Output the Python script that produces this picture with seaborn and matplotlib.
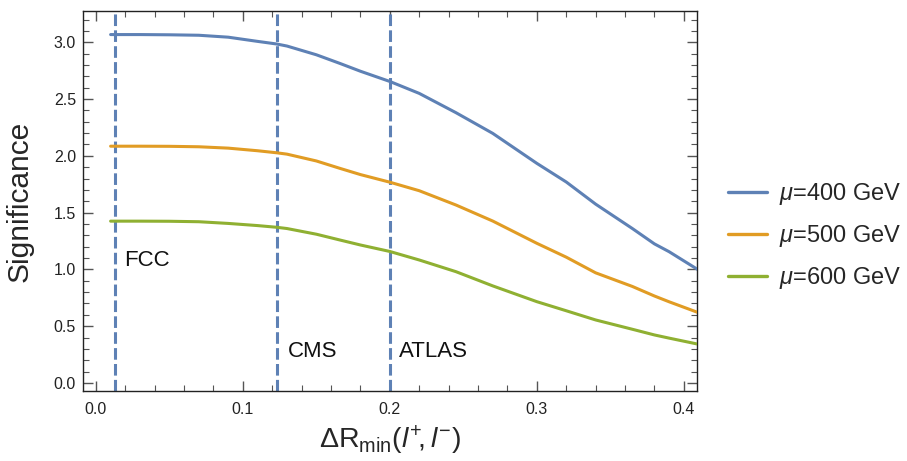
import numpy as np
import pandas as pd
import matplotlib
matplotlib.use("Agg")
import matplotlib.pyplot as plt
import seaborn as sns
from matplotlib.ticker import MultipleLocator
from matplotlib.lines import Line2D

# ---- data ----
dr = [0.01, 0.03, 0.05, 0.07, 0.09, 0.11, 0.123, 0.13, 0.15, 0.166, 0.18, 0.2,
      0.22, 0.245, 0.27, 0.3, 0.32, 0.34, 0.365, 0.38, 0.39, 0.41]
sig_400 = [3.068, 3.068, 3.066, 3.062, 3.045, 3.008, 2.985, 2.967, 2.89, 2.814, 2.745, 2.655,
           2.550, 2.38, 2.198, 1.934, 1.77, 1.575, 1.36, 1.225, 1.156, 0.995]
sig_500 = [2.085, 2.085, 2.084, 2.080, 2.068, 2.045, 2.027, 2.015, 1.955, 1.890, 1.835, 1.768,
           1.693, 1.567, 1.426, 1.23, 1.108, 0.97, 0.85, 0.766, 0.715, 0.619]
sig_600 = [1.425, 1.425, 1.424, 1.420, 1.405, 1.386, 1.371, 1.36, 1.31, 1.259, 1.215, 1.158,
           1.083, 0.98, 0.855, 0.716, 0.636, 0.555, 0.473, 0.423, 0.395, 0.341]
series_labels = [r"$\mu$=400 GeV", r"$\mu$=500 GeV", r"$\mu$=600 GeV"]
colors = ["#5E81B5", "#E19C24", "#8FB032"]
cut_names = ["FCC", "CMS", "ATLAS"]
cut_values = [0.013, 0.123, 0.2]
cut_label_x = [0.019, 0.1306, 0.2063]
cut_label_y = [1.08, 0.275, 0.275]
x_ticks = [0.0, 0.1, 0.2, 0.3, 0.4]
y_ticks = [0.0, 0.5, 1.0, 1.5, 2.0, 2.5, 3.0]

df = pd.DataFrame({
    "dr": dr * 3,
    "sig": sig_400 + sig_500 + sig_600,
    "series": [series_labels[0]] * len(dr) + [series_labels[1]] * len(dr) + [series_labels[2]] * len(dr),
})

sns.set_theme(style="white")
plt.rcParams["font.family"] = ["Liberation Sans", "DejaVu Sans"]
plt.rcParams["mathtext.fontset"] = "custom"
plt.rcParams["mathtext.rm"] = "Liberation Sans"
plt.rcParams["mathtext.it"] = "Liberation Sans:italic"
plt.rcParams["mathtext.bf"] = "Liberation Sans:bold"

fig = plt.figure(figsize=(9.07, 4.61), dpi=100)
ax = fig.add_axes([0.0915, 0.152, 0.677, 0.824])

sns.lineplot(data=df, x="dr", y="sig", hue="series", palette=colors,
             linewidth=2.2, legend=False, ax=ax, zorder=3)

for name, xv, tx, ty in zip(cut_names, cut_values, cut_label_x, cut_label_y):
    ax.axvline(xv, color="#5E81B5", linestyle=(0, (3.8, 1.4)), linewidth=2.2, zorder=2)
    ax.text(tx, ty, name, fontsize=16, va="center", ha="left", color="#111111")

ax.set_xlim(-0.0088, 0.409)
ax.set_ylim(-0.07, 3.275)
ax.set_xticks(x_ticks)
ax.set_xticklabels([f"{v:.1f}" for v in x_ticks])
ax.set_yticks(y_ticks)
ax.set_yticklabels([f"{v:.1f}" for v in y_ticks])
ax.xaxis.set_minor_locator(MultipleLocator(0.02))
ax.yaxis.set_minor_locator(MultipleLocator(0.1))
ax.tick_params(which="both", direction="in", top=True, right=True, bottom=True, left=True,
               color="#555555", labelsize=11.5, labelcolor="#222222")
ax.tick_params(which="major", length=7, width=1.0)
ax.tick_params(which="minor", length=4, width=0.8)
ax.tick_params(axis="x", which="major", pad=8)
ax.tick_params(axis="y", which="major", pad=5)
for s in ax.spines.values():
    s.set_color("#222222")
    s.set_linewidth(1.0)

ax.set_xlabel(r"$\Delta\mathrm{R}_{\mathrm{min}}(l^{+}\!,l^{-})$", fontsize=20.5, labelpad=5)
ax.set_ylabel("Significance", fontsize=21.5)
ax.yaxis.set_label_coords(-0.081, 0.5)

handles = [Line2D([0], [0], color=c, linewidth=2.4) for c in colors]
fig.legend(handles, series_labels, loc="center left", bbox_to_anchor=(0.8027, 0.488),
           frameon=False, fontsize=17, handlelength=1.65, handletextpad=0.5,
           labelspacing=0.68, borderpad=0, borderaxespad=0)

fig.savefig("out.png", dpi=100)
